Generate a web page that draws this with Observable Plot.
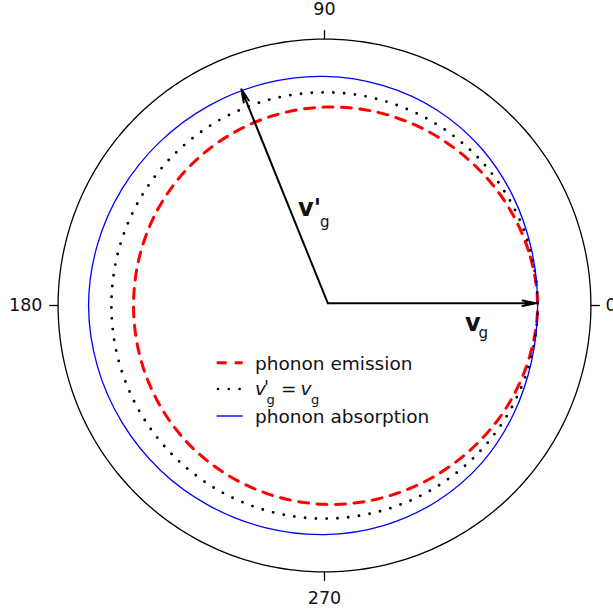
<!DOCTYPE html>
<html><head><meta charset="utf-8">
<script src="https://cdn.jsdelivr.net/npm/d3@7"></script>
<script src="https://cdn.jsdelivr.net/npm/@observablehq/plot@0.6"></script>
<style>
html,body{margin:0;padding:0;background:#fff;overflow:hidden}
#chart{position:relative;width:613px;height:615px}
</style></head><body><div id="chart"></div>
<script>
// polar angle of each sample (degrees, counter-clockwise from the right)
const angles = [0,15,30,45,60,75,90,105,120,135,150,165,180,195,210,225,240,255,270,285,300,315,330,345];
// radius |v'g| / |vg|
const emission   = [1.000,0.991,0.977,0.962,0.950,0.940,0.931,0.923,0.915,0.909,0.903,0.898,0.896,0.898,0.903,0.910,0.916,0.924,0.933,0.941,0.951,0.963,0.978,0.991];
const equalSpeed = [1,1,1,1,1,1,1,1,1,1,1,1,1,1,1,1,1,1,1,1,1,1,1,1];
const absorption = [1.000,1.006,1.022,1.042,1.058,1.068,1.075,1.079,1.083,1.089,1.096,1.103,1.107,1.103,1.097,1.091,1.084,1.079,1.075,1.069,1.059,1.044,1.023,1.006];
const tickAngles = [0,90,180,270];
const tickLabels = ["0","90","180","270"];
const outerRadius = 1.25;
const vectorAngles  = [0,112];
const vectorLengths = [0.975,1.082];

const K = 10;
const lon = a => a + 90;
const lat = r => 90 - r * K;
const series = vals => angles.map((a, i) => ({a, r: vals[i]}));
const ticks = tickAngles.map((a, i) => ({a, label: tickLabels[i]}));
const vectors = vectorAngles.map((a, i) => ({a, r: vectorLengths[i]}));

const tickText = (angle, opts) => Plot.text(ticks.filter(d => d.a === angle), {
  x: d => lon(d.a), y: d => lat(outerRadius), text: "label",
  fontSize: 17.5, fill: "#111", lineAnchor: "middle", ...opts
});

const svg = Plot.plot({
  width: 613, height: 615,
  marginLeft: 57.6, marginRight: 22.6, marginTop: 38.6, marginBottom: 43.6,
  projection: {
    type: "azimuthal-equidistant",
    rotate: [0, -90],
    clip: false,
    domain: d3.geoCircle().center([0, 90]).radius(outerRadius * K)()
  },
  style: {fontFamily: "DejaVu Sans", background: "white"},
  marks: [
    Plot.geo([outerRadius], {geometry: r => d3.geoCircle().center([0, 90]).radius(r * K).precision(1)(), stroke: "black", strokeWidth: 1.3, fill: "none"}),
    Plot.link(ticks, {x1: d => lon(d.a), y1: d => lat(outerRadius), x2: d => lon(d.a), y2: d => lat(outerRadius + 0.042), stroke: "black", strokeWidth: 1.3}),
    tickText(90, {dy: -29.8, textAnchor: "middle"}),
    tickText(270, {dy: 26, textAnchor: "middle"}),
    tickText(180, {dx: -15.6, textAnchor: "end"}),
    tickText(0, {dx: 14.6, textAnchor: "start"}),
    Plot.line(series(emission), {x: d => lon(d.a), y: d => lat(d.r), curve: "catmull-rom-closed", stroke: "#ff0000", strokeWidth: 3, strokeDasharray: "10 8.5"}),
    Plot.line(series(equalSpeed), {x: d => lon(d.a), y: d => lat(d.r), curve: "catmull-rom-closed", stroke: "black", strokeWidth: 2.9, strokeDasharray: "0 10.8", strokeLinecap: "round"}),
    Plot.line(series(absorption), {x: d => lon(d.a), y: d => lat(d.r), curve: "catmull-rom-closed", stroke: "#0000ff", strokeWidth: 1.3}),
    Plot.arrow(vectors, {x1: d => lon(d.a), y1: () => 90, x2: d => lon(d.a), y2: d => lat(d.r), stroke: "black", strokeWidth: 2, headLength: 10, headAngle: 24, dx: 3.3, dy: -2.3}),
    Plot.text(["v"], {x: () => 0, y: () => 90, text: d => d, dx: 140.5, dy: 25, fontSize: 24, fontWeight: "bold", textAnchor: "start", lineAnchor: "bottom", fill: "#111"}),
    Plot.text(["g"], {x: () => 0, y: () => 90, text: d => d, dx: 154, dy: 32.5, fontSize: 15, textAnchor: "start", lineAnchor: "bottom", fill: "#111"}),
    Plot.text(["v'"], {x: () => 0, y: () => 90, text: d => d, dx: -26.5, dy: -90, fontSize: 24, fontWeight: "bold", textAnchor: "start", lineAnchor: "bottom", fill: "#111"}),
    Plot.text(["g"], {x: () => 0, y: () => 90, text: d => d, dx: -4.5, dy: -79, fontSize: 15, textAnchor: "start", lineAnchor: "bottom", fill: "#111"})
  ]
});
document.getElementById("chart").appendChild(svg);

// legend
const lg = d3.select(svg).append("g").attr("font-family", "DejaVu Sans").attr("fill", "#111").attr("text-anchor", "start");
lg.append("line").attr("x1", 216.7).attr("x2", 242.7).attr("y1", 362.7).attr("y2", 362.7)
  .attr("stroke", "#ff0000").attr("stroke-width", 3).attr("stroke-dasharray", "10 8");
lg.append("line").attr("x1", 218).attr("x2", 240).attr("y1", 389).attr("y2", 389)
  .attr("stroke", "black").attr("stroke-width", 2.7).attr("stroke-dasharray", "0 10.8").attr("stroke-linecap", "round");
lg.append("line").attr("x1", 216.7).attr("x2", 242.7).attr("y1", 416).attr("y2", 416)
  .attr("stroke", "#0000ff").attr("stroke-opacity", 0.7).attr("stroke-width", 2);
lg.append("text").attr("x", 255).attr("y", 370).attr("font-size", 18.5).text("phonon emission");
lg.append("text").attr("x", 255).attr("y", 423).attr("font-size", 18.5).text("phonon absorption");
const t2 = lg.append("text").attr("y", 395).attr("font-size", 18.5);
t2.append("tspan").attr("x", 255).attr("font-style", "italic").text("v");
t2.append("tspan").attr("x", 264).attr("y", 393).attr("font-style", "italic").text("'");
t2.append("tspan").attr("x", 266.5).attr("y", 404).attr("font-size", 13).text("g");
t2.append("tspan").attr("x", 281).attr("y", 395).text("=");
t2.append("tspan").attr("x", 300.5).attr("font-style", "italic").text("v");
t2.append("tspan").attr("x", 311).attr("y", 404).attr("font-size", 13).text("g");
</script></body></html>
